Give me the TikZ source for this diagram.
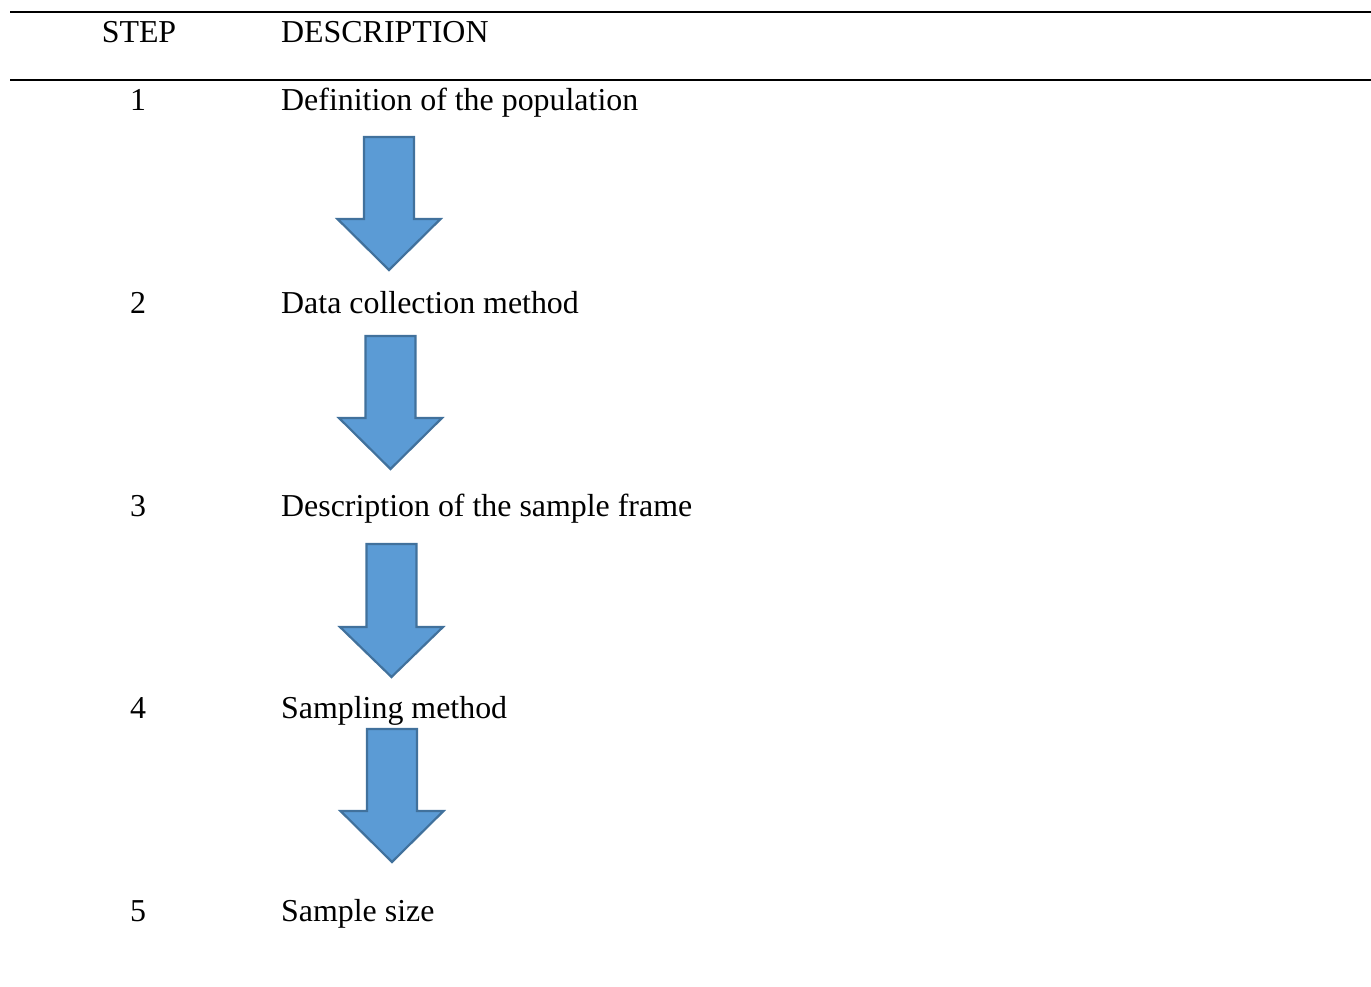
\documentclass[tikz,border=0pt]{standalone}
\usepackage{fontspec}
\setmainfont{Liberation Serif}
\definecolor{arrowfill}{HTML}{5B9BD5}
\definecolor{arrowline}{HTML}{41719C}
\begin{document}
\begin{tikzpicture}[x=1pt,y=-1pt,
  rule/.style={line width=2pt,black},
  cell/.style={inner sep=0pt,font=\fontsize{31.9}{38}\selectfont},
  num/.style={cell,anchor=base},
  desc/.style={cell,anchor=base west},
  blockarrow/.style={fill=arrowfill,draw=arrowline,line width=2.2pt,line join=miter}]
\useasboundingbox (0,0) rectangle (1371,987);
% table rules
\coordinate (r1a) at (10,12);  \coordinate (r1b) at (1371,12);
\coordinate (r2a) at (10,80);  \coordinate (r2b) at (1371,80);
\draw[rule] (r1a) -- (r1b);
\draw[rule] (r2a) -- (r2b);
% header
\node[num]  (hstep) at (139,43) {STEP};
\node[desc] (hdesc) at (281,43) {DESCRIPTION};
% rows
\node[num]  (n1) at (138,111) {1};
\node[desc] (d1) at (281,111) {Definition of the population};
\node[num]  (n2) at (138,313) {2};
\node[desc] (d2) at (281,313) {Data collection method};
\node[num]  (n3) at (138,516) {3};
\node[desc] (d3) at (281,516) {Description of the sample frame};
\node[num]  (n4) at (138,718) {4};
\node[desc] (d4) at (281,718) {Sampling method};
\node[num]  (n5) at (138,921) {5};
\node[desc] (d5) at (281,921) {Sample size};
% block arrows: #1 centre x, #2 top, #3 shoulder, #4 tip
\newcommand\downblock[4]{%
  \path[blockarrow] (#1-25,#2) -- (#1+25,#2) -- (#1+25,#3) -- (#1+51.5,#3)
    -- (#1,#4) -- (#1-51.5,#3) -- (#1-25,#3) -- cycle;}
\downblock{389}{137}{219}{270}
\downblock{390.5}{336}{418}{469}
\downblock{391.5}{544}{627}{677}
\downblock{392}{729}{811}{862}
\end{tikzpicture}
\end{document}
